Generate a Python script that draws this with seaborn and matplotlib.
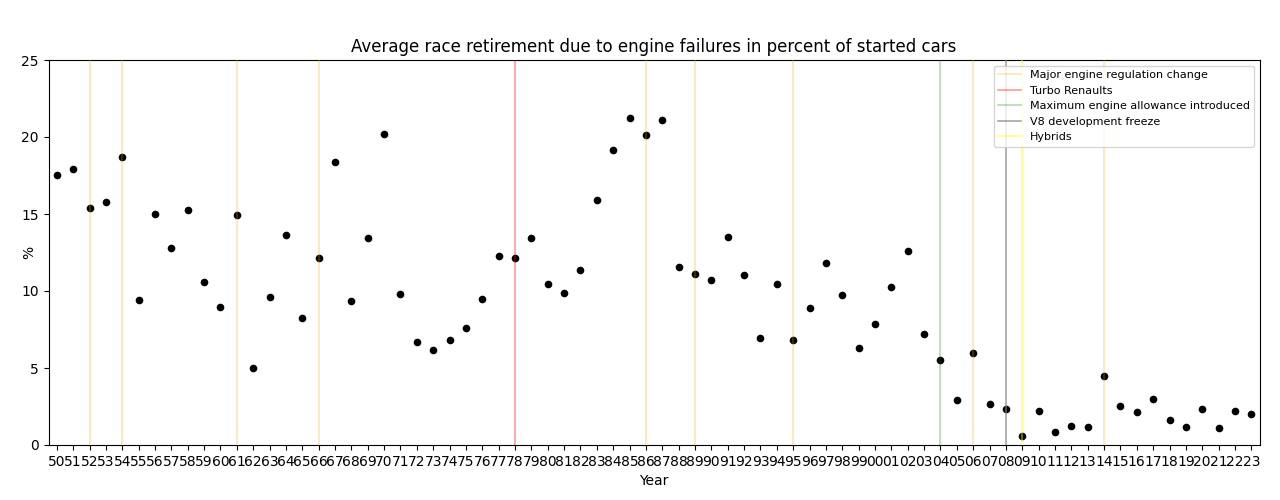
import numpy as np
import pandas as pd
import seaborn as sns
import matplotlib
matplotlib.use("Agg")
import matplotlib.pyplot as plt

years = [f"{y % 100:02d}" for y in range(1950, 2024)]
retire_pct = [
    17.53, 17.94, 15.40, 15.75, 18.68, 9.44, 14.99, 12.82, 15.23, 10.59,
    8.96, 14.92, 5.01, 9.63, 13.62, 8.26, 12.17, 18.35, 9.35, 13.45,
    20.17, 9.80, 6.66, 6.20, 6.79, 7.61, 9.50, 12.28, 12.13, 13.45,
    10.48, 9.89, 11.39, 15.90, 19.13, 21.26, 20.15, 21.08, 11.56, 11.08,
    10.69, 13.51, 11.06, 6.94, 10.46, 6.81, 8.87, 11.84, 9.72, 6.29,
    7.85, 10.26, 12.60, 7.20, 5.53, 2.93, 5.97, 2.65, 2.34, 0.56,
    2.21, 0.87, 1.21, 1.17, 4.45, 2.56, 2.15, 2.99, 1.65, 1.17,
    2.34, 1.13, 2.23, 2.02,
]

# events marked with vertical lines
reg_change_years = ["52", "54", "61", "66", "86", "89", "95", "06", "14"]
turbo_years = ["78"]
allowance_years = ["04"]
freeze_years = ["08"]
hybrid_years = ["09"]

df = pd.DataFrame({"Year": years, "pct": retire_pct})

fig, ax = plt.subplots(figsize=(12.8, 5), dpi=100)
fig.subplots_adjust(left=0.038, right=0.984, top=0.88, bottom=0.11)

sns.stripplot(data=df, x="Year", y="pct", jitter=False, color="black", size=5.5, ax=ax)

events = [
    (reg_change_years, "orange", 0.3, "Major engine regulation change"),
    (turbo_years, "red", 0.4, "Turbo Renaults"),
    (allowance_years, "green", 0.3, "Maximum engine allowance introduced"),
    (freeze_years, "gray", 0.7, "V8 development freeze"),
    (hybrid_years, "yellow", 0.5, "Hybrids"),
]
for yrs, col, a, lab in events:
    for i, y in enumerate(yrs):
        ax.axvline(years.index(y), color=col, alpha=a, lw=1.2, zorder=3,
                   label=lab if i == 0 else None)

ax.set_ylim(0, 25)
ax.set_xlim(-0.5, len(years) - 0.5)
ax.set_ylabel("%")
ax.yaxis.set_label_coords(-0.01, 0.5)
ax.set_xlabel("Year")
ax.set_title("Average race retirement due to engine failures in percent of started cars")
ax.legend(loc="upper right", fontsize=8)

plt.savefig("out.png", dpi=100)
